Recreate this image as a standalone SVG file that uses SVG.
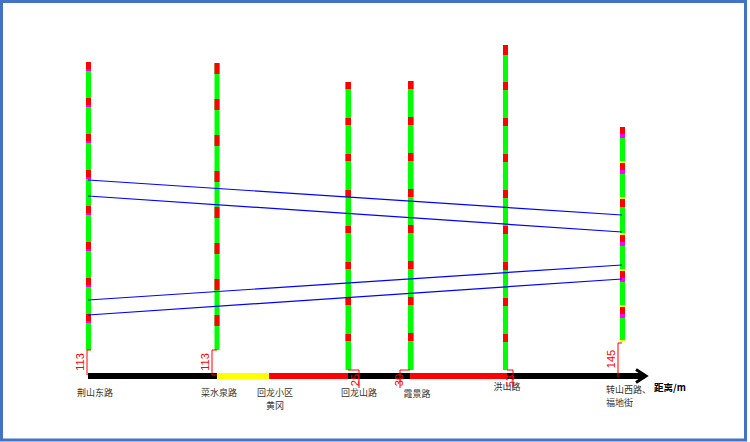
<svg xmlns="http://www.w3.org/2000/svg" width="750" height="442" viewBox="0 0 750 442">
<style>
.g{fill:#00ff00}.r{fill:#ff0000}.m{fill:#ff00ff}.y{fill:#ffff00}
.bl{stroke:#0000ff;stroke-width:1.2;fill:none}
.dim{stroke:#ff0000;stroke-width:1;fill:none}
.dt{font-family:"Liberation Sans",sans-serif;font-size:11px;fill:#ff0000}
.lb{font-family:"Noto Sans CJK SC",sans-serif;font-size:9px;fill:#333}
</style>
<rect x="0" y="0" width="750" height="442" fill="#fff"/>
<rect x="1.5" y="1.5" width="744" height="438.5" fill="none" stroke="#4472c4" stroke-width="3"/>

<g id="bar1">
<rect class="g" x="86" y="62" width="5" height="288"/>
<rect class="r" x="86" y="62" width="5" height="7"/><rect class="m" x="86" y="69" width="5" height="2"/>
<rect class="r" x="86" y="98" width="5" height="7"/><rect class="m" x="86" y="105" width="5" height="2"/>
<rect class="r" x="86" y="134" width="5" height="7"/><rect class="m" x="86" y="141" width="5" height="2"/>
<rect class="r" x="86" y="170" width="5" height="7"/><rect class="m" x="86" y="177" width="5" height="2"/>
<rect class="r" x="86" y="206" width="5" height="7"/><rect class="m" x="86" y="213" width="5" height="2"/>
<rect class="r" x="86" y="242" width="5" height="7"/><rect class="m" x="86" y="249" width="5" height="2"/>
<rect class="r" x="86" y="278" width="5" height="7"/><rect class="m" x="86" y="285" width="5" height="2"/>
<rect class="r" x="86" y="314" width="5" height="7"/><rect class="m" x="86" y="321" width="5" height="2"/>
</g>

<g id="bar2">
<rect class="g" x="214.5" y="63" width="5" height="287"/>
<rect class="r" x="214.5" y="63" width="5" height="11"/>
<rect class="r" x="214.5" y="99" width="5" height="11"/>
<rect class="r" x="214.5" y="135" width="5" height="11"/>
<rect class="r" x="214.5" y="171" width="5" height="11"/>
<rect class="r" x="214.5" y="207" width="5" height="11"/>
<rect class="r" x="214.5" y="243" width="5" height="11"/>
<rect class="r" x="214.5" y="279" width="5" height="11"/>
<rect class="r" x="214.5" y="315" width="5" height="11"/>
</g>

<g id="bar3">
<rect class="g" x="345.5" y="82" width="5.5" height="288"/>
<rect class="r" x="345.5" y="82" width="5.5" height="7"/>
<rect class="r" x="345.5" y="118" width="5.5" height="7"/>
<rect class="r" x="345.5" y="154" width="5.5" height="7"/>
<rect class="r" x="345.5" y="190" width="5.5" height="7"/>
<rect class="r" x="345.5" y="226" width="5.5" height="7"/>
<rect class="r" x="345.5" y="262" width="5.5" height="7"/>
<rect class="r" x="345.5" y="298" width="5.5" height="7"/>
<rect class="r" x="345.5" y="334" width="5.5" height="7"/>
</g>

<g id="bar4">
<rect class="g" x="408" y="81" width="5.5" height="289"/>
<rect class="r" x="408" y="81" width="5.5" height="8"/>
<rect class="r" x="408" y="117" width="5.5" height="8"/>
<rect class="r" x="408" y="153" width="5.5" height="8"/>
<rect class="r" x="408" y="189" width="5.5" height="8"/>
<rect class="r" x="408" y="225" width="5.5" height="8"/>
<rect class="r" x="408" y="261" width="5.5" height="8"/>
<rect class="r" x="408" y="297" width="5.5" height="8"/>
<rect class="r" x="408" y="333" width="5.5" height="8"/>
</g>

<g id="bar5">
<rect class="g" x="503" y="45" width="5" height="325"/>
<rect class="r" x="503" y="45" width="5" height="10"/>
<rect class="r" x="503" y="82" width="5" height="8"/>
<rect class="r" x="503" y="118" width="5" height="8"/>
<rect class="r" x="503" y="154" width="5" height="8"/>
<rect class="r" x="503" y="190" width="5" height="8"/>
<rect class="r" x="503" y="226" width="5" height="8"/>
<rect class="r" x="503" y="262" width="5" height="8"/>
<rect class="r" x="503" y="298" width="5" height="8"/>
<rect class="r" x="503" y="334" width="5" height="8"/>
</g>

<g id="bar6">
<rect class="g" x="620" y="127" width="5" height="215"/>
<rect class="r" x="620" y="127" width="5" height="7"/><rect class="m" x="620" y="134" width="5" height="4"/>
<rect class="y" x="620" y="161" width="5" height="2"/>
<rect class="r" x="620" y="163" width="5" height="7"/><rect class="m" x="620" y="170" width="5" height="4"/>
<rect class="y" x="620" y="197" width="5" height="2"/>
<rect class="r" x="620" y="199" width="5" height="8"/>
<rect class="y" x="620" y="233" width="5" height="2"/>
<rect class="r" x="620" y="235" width="5" height="7"/><rect class="m" x="620" y="242" width="5" height="4"/>
<rect class="y" x="620" y="269" width="5" height="2"/>
<rect class="r" x="620" y="271" width="5" height="7"/><rect class="m" x="620" y="278" width="5" height="4"/>
<rect class="y" x="620" y="305" width="5" height="2"/>
<rect class="r" x="620" y="307" width="5" height="7"/><rect class="m" x="620" y="314" width="5" height="4"/>
<rect class="y" x="620" y="340" width="5" height="2"/>
</g>

<g id="connectors">
<line class="bl" x1="88" y1="180" x2="622" y2="215"/>
<line class="bl" x1="88" y1="196" x2="622" y2="232"/>
<line class="bl" x1="88" y1="300" x2="622" y2="265"/>
<line class="bl" x1="88" y1="315" x2="622" y2="279"/>
</g>

<g id="axis">
<line x1="88" y1="376" x2="217" y2="376" stroke="#000" stroke-width="6"/>
<line x1="217" y1="376" x2="269" y2="376" stroke="#ffff00" stroke-width="6"/>
<line x1="269" y1="376" x2="348" y2="376" stroke="#ff0000" stroke-width="6"/>
<line x1="348" y1="376" x2="410" y2="376" stroke="#000" stroke-width="6"/>
<line x1="410" y1="376" x2="507" y2="376" stroke="#ff0000" stroke-width="6"/>
<line x1="507" y1="376" x2="644" y2="376" stroke="#000" stroke-width="6"/>
<polyline points="636,369.5 646,376 636,382.5" fill="none" stroke="#000" stroke-width="3"/>
</g>

<g id="dims">
<polyline class="dim" points="91,350 87,350 87,375"/>
<text class="dt" transform="translate(84,362) rotate(-90)" text-anchor="middle">113</text>
<polyline class="dim" points="217,350 212,350 212,375 217,375"/>
<text class="dt" transform="translate(209,362) rotate(-90)" text-anchor="middle">113</text>
<polyline class="dim" points="348,370 359,370 359,388"/>
<text class="dt" transform="translate(359,380) rotate(-90)" text-anchor="middle">25</text>
<polyline class="dim" points="410,370 400,370 400,388"/>
<text class="dt" transform="translate(403,380) rotate(-90)" text-anchor="middle">30</text>
<polyline class="dim" points="507,370 513,370 513,388"/>
<text class="dt" transform="translate(514,381) rotate(-90)" text-anchor="middle">53</text>
<polyline class="dim" points="622,343 618,343 618,377"/>
<text class="dt" transform="translate(615,359) rotate(-90)" text-anchor="middle">145</text>
</g>

<g id="labels">
<text class="lb" x="95" y="396" text-anchor="middle">荆山东路</text>
<text class="lb" x="219" y="396" text-anchor="middle">菜水泉路</text>
<text class="lb" x="275" y="396" text-anchor="middle">回龙小区</text>
<text class="lb" x="275" y="409" text-anchor="middle">黄冈</text>
<text class="lb" x="359" y="396" text-anchor="middle">回龙山路</text>
<text class="lb" x="417" y="397" text-anchor="middle">霞景路</text>
<text class="lb" x="507" y="390" text-anchor="middle">洪山路</text>
<text class="lb" x="606" y="393">转山西路、</text>
<text class="lb" x="606" y="406">福地街</text>
<text x="654" y="391" font-family="Noto Sans CJK SC,sans-serif" font-size="9.5" font-weight="bold" fill="#000">距离/m</text>
</g>
</svg>
